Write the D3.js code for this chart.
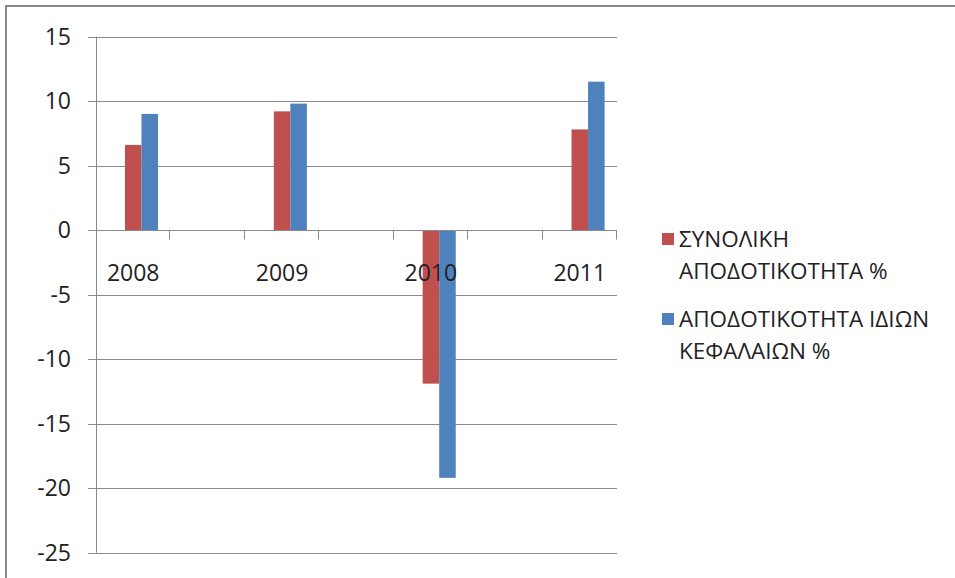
<!DOCTYPE html>
<html>
<head>
<meta charset="utf-8">
<script src="https://cdn.jsdelivr.net/npm/d3@7"></script>
<style>
  html, body { margin: 0; padding: 0; background: #fff; }
  svg { display: block; }
  text { font-family: "Open Sans", "Liberation Sans", sans-serif; fill: #222; }
</style>
</head>
<body>
<svg id="chart" width="955" height="578"></svg>
<script>
// ---- data ----
const categories = ["2008", "", "2009", "", "2010", "", "2011"];
const totalReturn = [6.6, null, 9.2, null, -11.9, null, 7.8];
const equityReturn = [9.0, null, 9.8, null, -19.2, null, 11.5];
const seriesNames = ["ΣΥΝΟΛΙΚΗ ΑΠΟΔΟΤΙΚΟΤΗΤΑ %", "ΑΠΟΔΟΤΙΚΟΤΗΤΑ ΙΔΙΩΝ ΚΕΦΑΛΑΙΩΝ %"];
const legendLines = [["ΣΥΝΟΛΙΚΗ", "ΑΠΟΔΟΤΙΚΟΤΗΤΑ %"], ["ΑΠΟΔΟΤΙΚΟΤΗΤΑ ΙΔΙΩΝ", "ΚΕΦΑΛΑΙΩΝ %"]];
const seriesColors = ["#C0504D", "#4F81BD"];
const yTicks = [15, 10, 5, 0, -5, -10, -15, -20, -25];

const series = [totalReturn, equityReturn];

const svg = d3.select("#chart");
const gridColor = "#8a8a8a";

// outer frame (left and top edges visible)
svg.append("line").attr("x1", 6).attr("x2", 6).attr("y1", 5).attr("y2", 578)
  .attr("stroke", "#888").attr("stroke-width", 2);
svg.append("line").attr("x1", 5).attr("x2", 955).attr("y1", 6).attr("y2", 6)
  .attr("stroke", "#888").attr("stroke-width", 2);

const plot = { left: 96, right: 617, top: 36.5, bottom: 552.7 };

const y = d3.scaleLinear().domain([-25, 15]).range([plot.bottom, plot.top]);
const x0 = d3.scaleBand().domain(d3.range(categories.length))
  .range([plot.left, plot.right]).padding(0);
// three slots per category: an empty leading slot, then the two series
const x1 = d3.scaleBand().domain([-1, 0, 1]).range([0, x0.bandwidth()])
  .paddingInner(0).paddingOuter(0.75);

// gridlines (extend left as ticks)
svg.append("g").selectAll("line").data(yTicks).join("line")
  .attr("x1", plot.left - 8).attr("x2", plot.right)
  .attr("y1", d => Math.round(y(d)) + 0.5).attr("y2", d => Math.round(y(d)) + 0.5)
  .attr("stroke", gridColor).attr("stroke-width", 1);

// y axis line
svg.append("line")
  .attr("x1", plot.left + 0.5).attr("x2", plot.left + 0.5)
  .attr("y1", y(15)).attr("y2", y(-25))
  .attr("stroke", gridColor).attr("stroke-width", 1);

// y tick labels
svg.append("g").selectAll("text").data(yTicks).join("text")
  .attr("x", 71).attr("y", d => y(d))
  .attr("dy", "0.36em")
  .attr("text-anchor", "end")
  .attr("font-size", 23)
  .text(d => d);

// bars
series.forEach((vals, si) => {
  svg.append("g").selectAll("rect")
    .data(vals.map((v, i) => ({ v, i })).filter(d => d.v !== null))
    .join("rect")
    .attr("x", d => x0(d.i) + x1(si))
    .attr("width", x1.bandwidth())
    .attr("y", d => Math.min(y(0), y(d.v)))
    .attr("height", d => Math.abs(y(d.v) - y(0)))
    .attr("fill", seriesColors[si]);
});

// category axis on zero line with ticks at band boundaries
const zeroY = Math.round(y(0)) + 0.5;
const catAxis = svg.append("g");
catAxis.append("line")
  .attr("x1", plot.left).attr("x2", plot.right)
  .attr("y1", zeroY).attr("y2", zeroY)
  .attr("stroke", gridColor).attr("stroke-width", 1);
const boundaries = d3.range(categories.length + 1).map(i =>
  i < categories.length ? x0(i) : x0(categories.length - 1) + x0.bandwidth());
catAxis.selectAll("line.tick").data(boundaries.slice(1)).join("line")
  .attr("class", "tick")
  .attr("x1", d => Math.round(d) - 0.5).attr("x2", d => Math.round(d) - 0.5)
  .attr("y1", zeroY).attr("y2", zeroY + 9)
  .attr("stroke", gridColor).attr("stroke-width", 1);

// category labels
catAxis.selectAll("text").data(categories.map((c, i) => ({ c, i })).filter(d => d.c !== ""))
  .join("text")
  .attr("x", d => x0(d.i) + x0.bandwidth() / 2)
  .attr("y", 281)
  .attr("text-anchor", "middle")
  .attr("font-size", 23)
  .text(d => d.c);

// legend
const legend = svg.append("g");
const legendTops = [239, 319];
legendLines.forEach((lines, si) => {
  const g = legend.append("g");
  g.append("rect")
    .attr("x", 662).attr("y", legendTops[si] - 6)
    .attr("width", 12).attr("height", 12)
    .attr("fill", seriesColors[si]);
  lines.forEach((ln, li) => {
    g.append("text")
      .attr("x", 679)
      .attr("y", legendTops[si] + 8 + li * 32)
      .attr("font-size", 22.5)
      .text(ln);
  });
});
</script>
</body>
</html>
